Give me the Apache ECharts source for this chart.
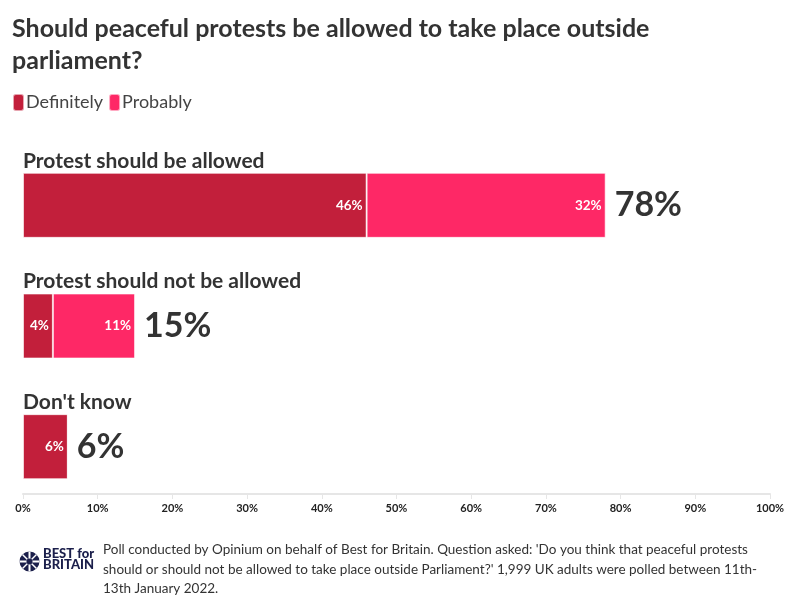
<!DOCTYPE html>
<html>
<head>
<meta charset="utf-8">
<script src="https://cdn.jsdelivr.net/npm/echarts@6/dist/echarts.min.js"></script>
<style>
  html, body { margin: 0; padding: 0; background: #fff; }
  #chart { width: 796px; height: 597px; }
</style>
</head>
<body>
<div id="chart"></div>
<script>
const categories = ['Protest should be allowed', 'Protest should not be allowed', "Don't know"]
const definitely = [46, 4, 6]
const probably = [32, 11, 0]
const totals = [78, 15, 6]
const tickLabels = ['0%', '10%', '20%', '30%', '40%', '50%', '60%', '70%', '80%', '90%', '100%']

const font = 'Lato, "Noto Sans", sans-serif'
const chart = echarts.init(document.getElementById('chart'))

const insideLabel = {
    show: true,
    position: 'insideRight',
    distance: 4,
    color: '#fff',
    fontFamily: font,
    fontWeight: 'bold',
    fontSize: 13.5,
    formatter: (p) => p.value > 0 ? p.value + '%' : ''
}

const option = {
    animation: false,
    backgroundColor: '#fff',
    textStyle: { fontFamily: font },
    title: {
        text: 'Should peaceful protests be allowed to take place outside\nparliament?',
        left: 12,
        top: 13,
        padding: 0,
        textStyle: {
            fontFamily: font,
            fontSize: 25,
            fontWeight: 'bold',
            color: '#333',
            lineHeight: 32
        }
    },
    legend: {
        left: 12,
        top: 93,
        padding: 0,
        itemWidth: 11,
        itemHeight: 17,
        itemGap: 5,
        icon: 'roundRect',
        data: ['Definitely', 'Probably'],
        textStyle: { fontFamily: font, fontSize: 18, color: '#444', padding: [0, 0, 0, -3] }
    },
    grid: {
        left: 23,
        right: 26,
        top: 145,
        height: 362
    },
    xAxis: {
        type: 'value',
        min: 0,
        max: 100,
        interval: 10,
        offset: -13,
        splitLine: { show: false },
        axisLine: { show: true, lineStyle: { color: '#e6e6e6', width: 2 } },
        axisTick: { show: true, length: 5, lineStyle: { color: '#e6e6e6', width: 1 } },
        axisLabel: {
            margin: 9,
            color: '#222',
            fontFamily: font,
            fontWeight: 'bold',
            fontSize: 11,
            formatter: (v) => tickLabels[Math.round(v / 10)]
        }
    },
    yAxis: {
        type: 'category',
        data: categories,
        inverse: true,
        axisLine: { show: false },
        axisTick: { show: false },
        axisLabel: {
            inside: true,
            margin: 0,
            align: 'left',
            verticalAlign: 'bottom',
            padding: [0, 0, 34, 0],
            color: '#333',
            fontFamily: font,
            fontWeight: 'bold',
            fontSize: 21
        }
    },
    series: [
        {
            name: 'Definitely',
            type: 'bar',
            stack: 'total',
            barWidth: 65,
            data: definitely,
            itemStyle: { color: '#c21f3b', borderColor: 'rgba(255,255,255,0.6)', borderWidth: 1 },
            label: insideLabel
        },
        {
            name: 'Probably',
            type: 'bar',
            stack: 'total',
            barWidth: 65,
            data: probably,
            itemStyle: { color: '#fe2866', borderColor: 'rgba(255,255,255,0.6)', borderWidth: 1 },
            label: insideLabel
        },
        {
            name: 'Total',
            type: 'bar',
            stack: 'total',
            barWidth: 65,
            data: totals.map(() => 0),
            itemStyle: { color: 'transparent' },
            label: {
                show: true,
                position: 'right',
                distance: 9,
                color: '#333',
                fontFamily: font,
                fontWeight: 'bold',
                fontSize: 34,
                formatter: (p) => totals[p.dataIndex] + '%'
            }
        }
    ],
    graphic: [
        {
            type: 'group',
            left: 17,
            top: 549,
            children: [
                { type: 'circle', shape: { cx: 11, cy: 10, r: 10 }, style: { fill: '#1b1f4b' } },
                { type: 'line', shape: { x1: 11, y1: 0, x2: 11, y2: 20 }, style: { stroke: '#fff', lineWidth: 2 } },
                { type: 'line', shape: { x1: 1, y1: 10, x2: 21, y2: 10 }, style: { stroke: '#fff', lineWidth: 2 } },
                { type: 'line', shape: { x1: 4, y1: 3, x2: 18, y2: 17 }, style: { stroke: '#fff', lineWidth: 1.5 } },
                { type: 'line', shape: { x1: 18, y1: 3, x2: 4, y2: 17 }, style: { stroke: '#fff', lineWidth: 1.5 } },
                { type: 'circle', shape: { cx: 11, cy: 10, r: 3 }, style: { fill: '#1b1f4b' } }
            ]
        },
        {
            type: 'text',
            left: 43,
            top: 547,
            style: {
                text: 'BEST for\nBRITAIN',
                fill: '#1b1f4b',
                font: '900 13px ' + font,
                lineHeight: 11.5
            }
        },
        {
            type: 'text',
            left: 103,
            top: 540,
            style: {
                text: "Poll conducted by Opinium on behalf of Best for Britain. Question asked: 'Do you think that peaceful protests\nshould or should not be allowed to take place outside Parliament?' 1,999 UK adults were polled between 11th-\n13th January 2022.",
                fill: '#333',
                font: '13.5px ' + font,
                lineHeight: 19.5
            }
        }
    ]
}

chart.setOption(option)
</script>
</body>
</html>
